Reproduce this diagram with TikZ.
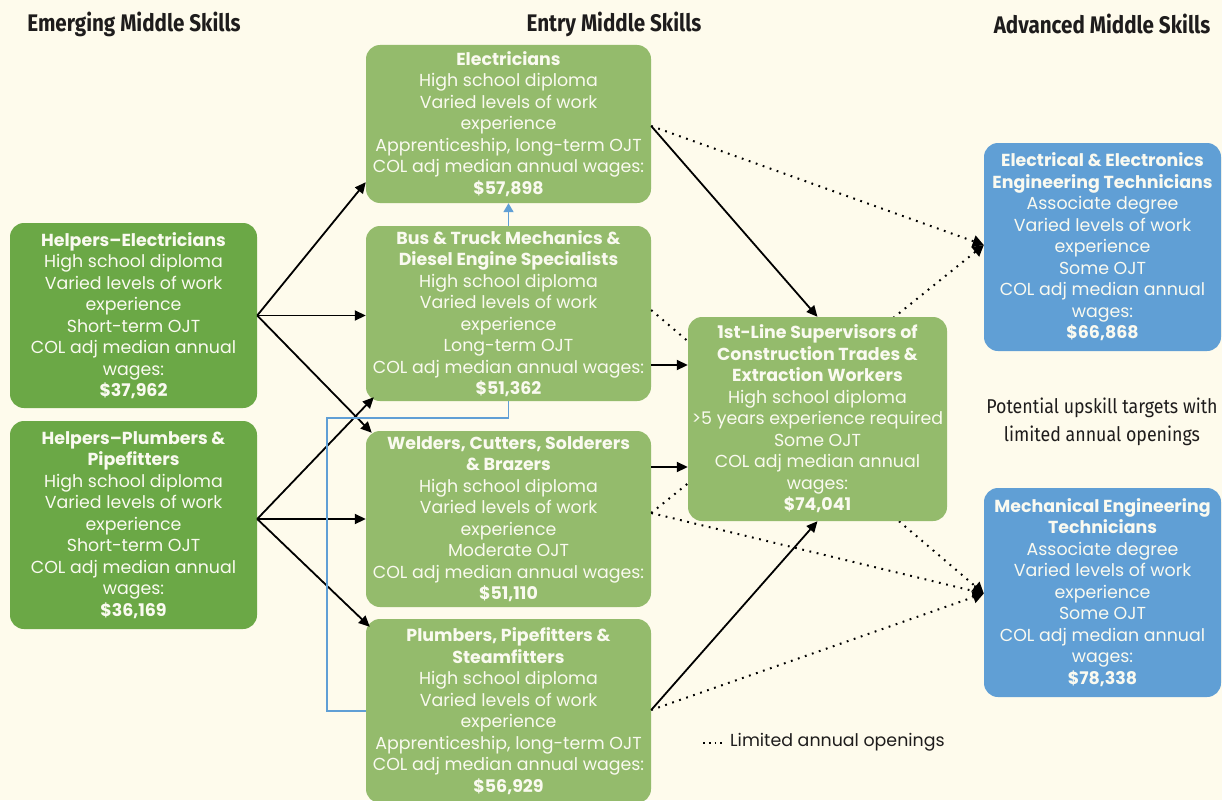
\documentclass[tikz,border=0pt]{standalone}
\usepackage{fontspec}
\setmainfont{Poppins}
\newfontfamily\hfont{Fira Sans}
\usetikzlibrary{arrows.meta,calc}
\definecolor{bg}{RGB}{254,251,236}
\definecolor{dgreen}{RGB}{107,168,70}
\definecolor{lgreen}{RGB}{148,187,108}
\definecolor{bblue}{RGB}{96,159,213}
\definecolor{boxtext}{RGB}{250,250,240}
\definecolor{ink}{RGB}{30,28,28}
\begin{document}
\begin{tikzpicture}[x=1pt,y=-1pt,
  box/.style={rectangle, rounded corners=14pt, inner sep=0pt, align=center, text=boxtext,
    font=\fontsize{17.4}{21.5}\selectfont},
  dbox/.style={box, fill=dgreen},
  gbox/.style={box, fill=lgreen},
  bbox/.style={box, fill=bblue},
  header/.style={font=\hfont\bfseries\fontsize{24}{26}\selectfont, text=ink, inner sep=0pt},
  solidarrow/.style={draw=black, line width=1.8pt, -{Triangle[length=11pt,width=10pt]}},
  dotarrow/.style={draw=black, line width=2pt, dash pattern=on 1.8pt off 5.6pt, -{Triangle[length=11pt,width=12pt]}},
  bluearrow/.style={draw=bblue, line width=1.8pt, -{Triangle[length=9pt,width=10pt]}},
  blueline/.style={draw=bblue, line width=1.8pt},
  note/.style={font=\hfont\fontsize{20}{28}\selectfont, text=ink, align=center, inner sep=0pt}
]
\fill[bg] (0,0) rectangle (1222,800);
\useasboundingbox (0,0) rectangle (1222,800);

% headers
\node[header] (h1) at (134,24) {\scalebox{0.86}[1]{Emerging Middle Skills}};
\node[header] (h2) at (614,24) {\scalebox{0.86}[1]{Entry Middle Skills}};
\node[header] (h3) at (1102,24) {\scalebox{0.86}[1]{Advanced Middle Skills}};

% boxes (except supervisor, drawn later over dotted lines)
\node[dbox, minimum width=247pt, minimum height=185pt] (he) at (133.5,315.5)
 {\textbf{Helpers–Electricians}\\High school diploma\\Varied levels of work\\experience\\Short-term OJT\\COL adj median annual\\wages:\\\textbf{\$37,962}};
\node[dbox, minimum width=247pt, minimum height=208pt] (hp) at (133.5,525)
 {\textbf{Helpers–Plumbers \&}\\\textbf{Pipefitters}\\High school diploma\\Varied levels of work\\experience\\Short-term OJT\\COL adj median annual\\wages:\\\textbf{\$36,169}};
\node[gbox, minimum width=285pt, minimum height=158pt] (el) at (508.5,124)
 {\textbf{Electricians}\\High school diploma\\Varied levels of work\\experience\\Apprenticeship, long-term OJT\\COL adj median annual wages:\\\textbf{\$57,898}};
\node[gbox, minimum width=285pt, minimum height=175pt] (bt) at (508.5,313.5)
 {\textbf{Bus \& Truck Mechanics \&}\\\textbf{Diesel Engine Specialists}\\High school diploma\\Varied levels of work\\experience\\Long-term OJT\\COL adj median annual wages:\\\textbf{\$51,362}};
\node[gbox, minimum width=285pt, minimum height=176pt] (we) at (508.5,519)
 {\textbf{Welders, Cutters, Solderers}\\\textbf{\& Brazers}\\High school diploma\\Varied levels of work\\experience\\Moderate OJT\\COL adj median annual wages:\\\textbf{\$51,110}};
\node[gbox, minimum width=285pt, minimum height=184pt] (pl) at (508.5,711)
 {\textbf{Plumbers, Pipefitters \&}\\\textbf{Steamfitters}\\High school diploma\\Varied levels of work\\experience\\Apprenticeship, long-term OJT\\COL adj median annual wages:\\\textbf{\$56,929}};
\node[bbox, minimum width=237pt, minimum height=208pt] (ee) at (1102.5,247)
 {\textbf{Electrical \& Electronics}\\\textbf{Engineering Technicians}\\Associate degree\\Varied levels of work\\experience\\Some OJT\\COL adj median annual\\wages:\\\textbf{\$66,868}};
\node[bbox, minimum width=237pt, minimum height=209pt] (me) at (1102.5,592.5)
 {\textbf{Mechanical Engineering}\\\textbf{Technicians}\\Associate degree\\Varied levels of work\\experience\\Some OJT\\COL adj median annual\\wages:\\\textbf{\$78,338}};

% coordinates on box borders
\coordinate (hpo) at ($(hp.east)+(0,-6)$);
\coordinate (elo) at ($(el.east)+(0,2)$);
\coordinate (bto) at ($(bt.east)+(0,-3.5)$);
\coordinate (bto2) at ($(bt.east)+(0,51.5)$);
\coordinate (weo) at ($(we.east)+(0,-6)$);
\coordinate (weo2) at ($(we.east)+(0,-52)$);
\coordinate (plo) at ($(pl.east)+(0,-1)$);
\coordinate (eei) at ($(ee.west)+(0,-2)$);
\coordinate (mei) at ($(me.west)+(0,1)$);

% dotted (limited openings) connectors, behind supervisor box
\draw[dotarrow] (elo) -- (eei);
\draw[dotarrow] (weo) -- (eei);
\draw[dotarrow] (bto) -- (mei);
\draw[dotarrow] (weo) -- (mei);
\draw[dotarrow] (plo) -- (mei);

% supervisor box
\node[gbox, minimum width=259pt, minimum height=204pt] (su) at (817.5,419)
 {\textbf{1st-Line Supervisors of}\\\textbf{Construction Trades \&}\\\textbf{Extraction Workers}\\High school diploma\\>5 years experience required\\Some OJT\\COL adj median annual\\wages:\\\textbf{\$74,041}};

% solid arrows
\draw[solidarrow] (he.east) -- ($(el.south west)+(0,-21)$);
\draw[solidarrow] (he.east) -- (bt.west |- he.east);
\draw[solidarrow] (he.east) -- ($(we.north west)+(6,2)$);
\draw[solidarrow] (hpo) -- ($(bt.south west)+(8,-4)$);
\draw[solidarrow] (hpo) -- (we.west);
\draw[solidarrow] (hpo) -- ($(pl.north west)+(4,8)$);
\draw[solidarrow] (elo) -- (su.north);
\draw[solidarrow] (bto2) -- (su.west |- bto2);
\draw[solidarrow] (weo2) -- (su.west |- weo2);
\draw[solidarrow] (plo) -- (su.south);

% blue connectors
\draw[blueline] (pl.west) -- ++(-39,0) |- ($(bt.south)+(0,17)$) -- (bt.south);
\draw[bluearrow] (bt.north) -- (el.south);

% notes
\node[note] (up) at (1102,422) {\scalebox{0.89}[1]{Potential upskill targets with}\\\scalebox{0.89}[1]{limited annual openings}};
\node[anchor=west, inner sep=0pt, text=ink, font=\fontsize{17.4}{20}\selectfont] (leg) at (730,742) {Limited annual openings};
\coordinate (legs) at ($(leg.west)+(-27,1)$);
\coordinate (lege) at ($(leg.west)+(-5,1)$);
\draw[black, line width=1.8pt, dash pattern=on 1.8pt off 4pt] (legs) -- (lege);
\end{tikzpicture}
\end{document}
